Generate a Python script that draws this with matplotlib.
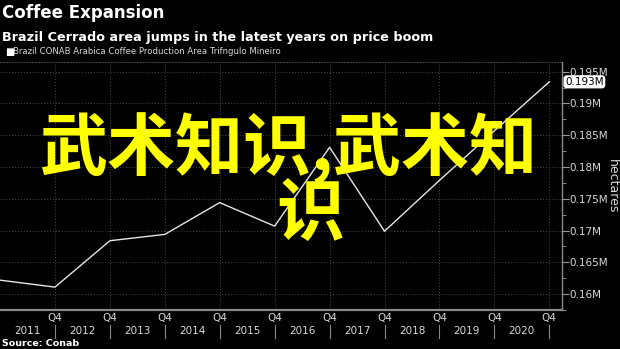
import numpy as np
import matplotlib
matplotlib.use("Agg")
import matplotlib.pyplot as plt
import matplotlib.transforms as mtransforms

# Trifngulo Mineiro arabica area, hectares, each Q4 from 2010 to 2020
quarters = ["2010 Q4", "2011 Q4", "2012 Q4", "2013 Q4", "2014 Q4", "2015 Q4",
            "2016 Q4", "2017 Q4", "2018 Q4", "2019 Q4", "2020 Q4"]
area = [162200, 161100, 168400, 169400, 174400, 170700,
        183100, 169900, 177900, 185700, 193400]
years = ["2011", "2012", "2013", "2014", "2015", "2016", "2017", "2018", "2019", "2020"]
yticks = [160000, 165000, 170000, 175000, 180000, 185000, 190000, 195000]

fg = "#d9d9d9"
grid_c = "#4a4a4a"

fig = plt.figure(figsize=(6.2, 3.49), dpi=100, facecolor="black")
ax = fig.add_axes([0.0, 0.1117, 0.906, 0.7106], facecolor="black")

x = np.arange(len(quarters))
ax.plot(x, area, color="#e6e6e6", lw=1.0, zorder=3)

ax.set_xlim(0, 10.226)
ax.set_ylim(157820, 196520)

# right-hand value axis
ax.yaxis.tick_right()
ax.set_yticks(yticks)
ax.set_yticklabels([f"{v / 1e6:g}M" for v in yticks])
ax.set_yticks(np.arange(157500, 197500, 2500), minor=True)
ax.tick_params(axis="y", which="major", colors="#9a9a9a", labelcolor=fg,
               length=5, width=0.8, labelsize=7.5, pad=0.5)
ax.tick_params(axis="y", which="minor", colors="#9a9a9a", length=3, width=0.6)
ax.yaxis.set_label_position("right")
ax.set_ylabel("hectares", color=fg, fontsize=9, rotation=270, labelpad=8)

# quarter ticks along the bottom
ax.set_xticks(x[1:])
ax.set_xticklabels(["Q4"] * (len(x) - 1))
ax.tick_params(axis="x", length=0, labelcolor=fg, labelsize=7.5, pad=2)

ax.grid(True, which="major", color=grid_c, lw=0.7, ls=(0, (1, 2)))

ax.spines["left"].set_visible(False)
ax.spines["top"].set_color(grid_c)
ax.spines["top"].set_linestyle((0, (1, 2)))
ax.spines["top"].set_linewidth(0.7)
ax.spines["right"].set_color("#8a8a8a")
ax.spines["right"].set_linewidth(1.0)
ax.spines["bottom"].set_color("#8a8a8a")
ax.spines["bottom"].set_linewidth(1.6)

# year labels between the Q4 ticks, with separators
trans = mtransforms.blended_transform_factory(ax.transData, ax.transAxes)
for i, yr in enumerate(years):
    ax.text(i + 0.5, -0.086, yr, transform=trans, ha="center", va="center",
            color=fg, fontsize=7.5)
for xi in x[1:]:
    ax.plot([xi, xi], [-0.062, -0.112], transform=trans, color="#8a8a8a",
            lw=0.8, clip_on=False)

# last value tag
ytrans = mtransforms.blended_transform_factory(ax.transAxes, ax.transData)
ax.text(1.006, area[-1], f"{area[-1] / 1e6:.3f}M", transform=ytrans,
        ha="left", va="center", color="black", fontsize=7.5,
        bbox=dict(boxstyle="round,pad=0.15,rounding_size=0.3", fc="white", ec="none"),
        zorder=5)

# headings
fig.text(0.003, 0.963, "Coffee Expansion", color="white", fontsize=12,
         fontweight="bold", ha="left", va="center")
fig.text(0.003, 0.893, "Brazil Cerrado area jumps in the latest years on price boom",
         color="white", fontsize=9.2, fontweight="bold", ha="left", va="center")
fig.text(0.008, 0.852, "\u25a0", color="white", fontsize=7, ha="left", va="center")
fig.text(0.021, 0.852, "Brazil CONAB Arabica Coffee Production Area Trifngulo Mineiro",
         color=fg, fontsize=6.1, ha="left", va="center")
fig.text(0.004, 0.017, "Source: Conab", color="white", fontsize=6.8,
         fontweight="bold", ha="left", va="center")

# overlay caption
cjk = ["Noto Sans CJK SC", "DejaVu Sans"]
fig.text(0.466, 0.5745, "武术知识,武术知", family=cjk, color="#ffff00",
         fontsize=49, fontweight="bold", ha="center", va="center", zorder=10)
fig.text(0.5, 0.3825, "识", family=cjk, color="#ffff00",
         fontsize=49, fontweight="bold", ha="center", va="center", zorder=10)

fig.savefig("out.png", dpi=100, facecolor="black")
